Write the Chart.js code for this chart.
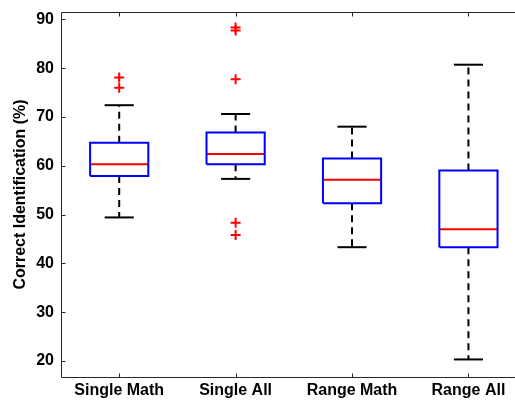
<!DOCTYPE html>
<html>
<head>
    <title>Correct Identification boxplot</title>
    <script src="https://cdn.jsdelivr.net/npm/chart.js"></script>
    <style>
        body { margin: 0; overflow: hidden; background: #fff; }
    </style>
</head>
<body>
    <!-- a bit wider than the window: the right axis is cut off in the original -->
    <canvas id="myChart" width="522" height="401"></canvas>

    <script>
        // data
        const categories = ['Single Math', 'Single All', 'Range Math', 'Range All'];
        const whiskerLow = [49.4, 57.3, 43.3, 20.3];
        const q1 = [57.9, 60.3, 52.3, 43.3];
        const median = [60.3, 62.4, 57.1, 47.0];
        const q3 = [64.7, 66.8, 61.5, 59.0];
        const whiskerHigh = [72.4, 70.6, 68.0, 80.7];
        const outliers = [
            [78.1, 76.0],
            [88.3, 87.7, 77.7, 48.3, 45.8],
            [],
            []
        ];
        const yTicks = [20, 30, 40, 50, 60, 70, 80, 90];

        const BLUE = '#0000ff';
        const RED = '#ff0000';
        const BLACK = '#000000';
        const FONT = { family: 'Liberation Sans', size: 16, weight: 'bold' };

        function seg(data, color, dash) {
            return {
                data: data,
                showLine: true,
                borderColor: color,
                borderWidth: 2,
                borderDash: dash || [],
                pointRadius: 0,
                fill: false
            };
        }

        const datasets = [];
        categories.forEach((c, i) => {
            const x = i + 1;
            // box
            datasets.push(seg([
                { x: x - 0.25, y: q1[i] }, { x: x + 0.25, y: q1[i] },
                { x: x + 0.25, y: q3[i] }, { x: x - 0.25, y: q3[i] },
                { x: x - 0.25, y: q1[i] }
            ], BLUE));
            // median
            datasets.push(seg([{ x: x - 0.25, y: median[i] }, { x: x + 0.25, y: median[i] }], RED));
            // whiskers
            datasets.push(seg([{ x: x, y: q3[i] }, { x: x, y: whiskerHigh[i] }], BLACK, [7, 5]));
            datasets.push(seg([{ x: x, y: q1[i] }, { x: x, y: whiskerLow[i] }], BLACK, [7, 5]));
            // caps
            datasets.push(seg([{ x: x - 0.125, y: whiskerHigh[i] }, { x: x + 0.125, y: whiskerHigh[i] }], BLACK));
            datasets.push(seg([{ x: x - 0.125, y: whiskerLow[i] }, { x: x + 0.125, y: whiskerLow[i] }], BLACK));
            // outliers
            datasets.push({
                data: outliers[i].map(v => ({ x: x, y: v })),
                showLine: false,
                pointStyle: 'cross',
                pointRadius: 5,
                borderColor: RED,
                borderWidth: 2
            });
        });

        // axes frame with inward tick marks
        const frame = {
            id: 'frame',
            afterDraw(chart) {
                const { ctx, chartArea: a, scales: { x, y } } = chart;
                const l = Math.round(a.left) + 0.5, t = Math.round(a.top) + 0.5, b = Math.round(a.bottom) + 0.5;
                ctx.save();
                ctx.strokeStyle = '#262626';
                ctx.lineWidth = 1;
                ctx.beginPath();
                ctx.moveTo(a.right, t); ctx.lineTo(l, t); ctx.lineTo(l, b); ctx.lineTo(a.right, b);
                x.ticks.forEach(tk => {
                    const px = Math.round(x.getPixelForValue(tk.value)) + 0.5;
                    ctx.moveTo(px, b); ctx.lineTo(px, b - 4);
                    ctx.moveTo(px, t); ctx.lineTo(px, t + 4);
                });
                y.ticks.forEach(tk => {
                    const py = Math.round(y.getPixelForValue(tk.value)) + 0.5;
                    ctx.moveTo(l, py); ctx.lineTo(l + 4, py);
                });
                ctx.stroke();
                ctx.restore();
            }
        };

        const ctx = document.getElementById('myChart').getContext('2d');
        const myChart = new Chart(ctx, {
            type: 'scatter',
            data: { datasets: datasets },
            options: {
                responsive: false,
                animation: false,
                layout: { padding: { top: 12, right: 0, left: 0, bottom: 0 } },
                plugins: {
                    legend: { display: false },
                    tooltip: { enabled: false }
                },
                scales: {
                    x: {
                        type: 'linear',
                        min: 0.5,
                        max: 4.4,
                        grid: { display: false, drawTicks: false },
                        border: { display: false },
                        afterBuildTicks: s => { s.ticks = categories.map((c, i) => ({ value: i + 1 })); },
                        afterFit: s => { s.height = 24; },
                        ticks: {
                            autoSkip: false,
                            maxRotation: 0,
                            padding: 4,
                            color: BLACK,
                            font: FONT,
                            callback: v => categories[v - 1]
                        }
                    },
                    y: {
                        min: 16.7,
                        max: 91.5,
                        grid: { display: false, drawTicks: false },
                        border: { display: false },
                        afterBuildTicks: s => { s.ticks = yTicks.map(v => ({ value: v })); },
                        afterFit: s => { s.width = 61; s.paddingTop = 0; s.paddingBottom = 0; },
                        ticks: { padding: 7, color: BLACK, font: FONT },
                        title: {
                            display: true,
                            text: 'Correct Identification (%)',
                            color: BLACK,
                            font: FONT,
                            padding: { top: 11, bottom: 0 }
                        }
                    }
                }
            },
            plugins: [frame]
        });
    </script>
</body>
</html>
